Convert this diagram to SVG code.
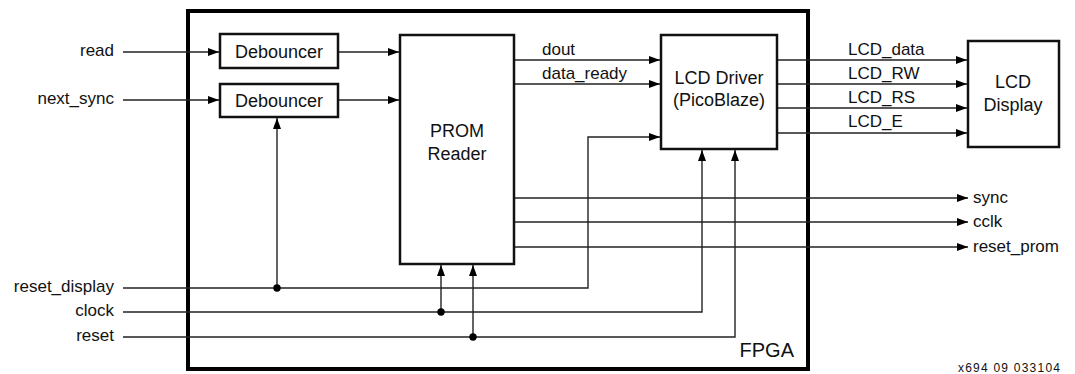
<svg xmlns="http://www.w3.org/2000/svg" width="1075" height="374" viewBox="0 0 1075 374">
<style>
text{font-family:"Liberation Sans",Arial,sans-serif;fill:#111}
.lbl{font-size:17px}
.nt{font-size:18px;text-anchor:middle}
.box{fill:#fff;stroke:#111;stroke-width:2.5}
.w{fill:none;stroke:#222;stroke-width:1.4}
.a{marker-end:url(#ah)}
.dot{fill:#000}
</style>
<defs>
<marker id="ah" markerUnits="userSpaceOnUse" markerWidth="11" markerHeight="8" refX="11" refY="4" orient="auto">
<path d="M0,0 L11,4 L0,8 z" fill="#000"/>
</marker>
</defs>
<g id="fpga">
<rect x="188" y="11" width="620" height="358" fill="none" stroke="#000" stroke-width="4"/>
<text x="794" y="357" style="font-size:20px;text-anchor:end">FPGA</text>
</g>
<g id="connectors">
<path class="w a" d="M123,52 H219"/>
<path class="w a" d="M123,100 H219"/>
<path class="w a" d="M338,52 H399"/>
<path class="w a" d="M338,100 H399"/>
<path class="w a" d="M514,60 H660"/>
<path class="w a" d="M514,84 H660"/>
<path class="w a" d="M777,60 H967"/>
<path class="w a" d="M777,84 H967"/>
<path class="w a" d="M777,108 H967"/>
<path class="w a" d="M777,133 H967"/>
<path class="w a" d="M514,198 H968"/>
<path class="w a" d="M514,222 H968"/>
<path class="w a" d="M514,247 H968"/>
<path class="w a" d="M123,288 H588 V137 H660"/>
<path class="w a" d="M277,288 V118"/>
<path class="w a" d="M123,312 H702 V150"/>
<path class="w a" d="M123,337 H735 V150"/>
<path class="w a" d="M441,312 V265"/>
<path class="w a" d="M473,337 V265"/>
<circle class="dot" cx="277" cy="288" r="3.7"/>
<circle class="dot" cx="441" cy="312" r="3.7"/>
<circle class="dot" cx="473" cy="337" r="3.7"/>
<text class="lbl" x="542" y="55">dout</text>
<text class="lbl" x="542" y="79">data_ready</text>
<text class="lbl" x="848" y="55">LCD_data</text>
<text class="lbl" x="848" y="79">LCD_RW</text>
<text class="lbl" x="848" y="103">LCD_RS</text>
<text class="lbl" x="848" y="127">LCD_E</text>
<text class="lbl" x="973" y="203">sync</text>
<text class="lbl" x="973" y="227">cclk</text>
<text class="lbl" x="973" y="252">reset_prom</text>
<text class="lbl" x="114" y="56" text-anchor="end">read</text>
<text class="lbl" x="114" y="104" text-anchor="end">next_sync</text>
<text class="lbl" x="114" y="292" text-anchor="end">reset_display</text>
<text class="lbl" x="114" y="316" text-anchor="end">clock</text>
<text class="lbl" x="114" y="341" text-anchor="end">reset</text>
</g>
<g id="debouncer1">
<rect class="box" x="220" y="34" width="118" height="34"/>
<text class="nt" x="279" y="58">Debouncer</text>
</g>
<g id="debouncer2">
<rect class="box" x="220" y="84" width="118" height="33"/>
<text class="nt" x="279" y="107">Debouncer</text>
</g>
<g id="prom_reader">
<rect class="box" x="400" y="35" width="114" height="229"/>
<text class="nt" x="457" y="137">PROM</text>
<text class="nt" x="457" y="160">Reader</text>
</g>
<g id="lcd_driver">
<rect class="box" x="661" y="35" width="116" height="114"/>
<text class="nt" x="719" y="84">LCD Driver</text>
<text class="nt" x="719" y="106">(PicoBlaze)</text>
</g>
<g id="lcd_display">
<rect class="box" x="968" y="41" width="91" height="106"/>
<text class="nt" x="1013" y="88">LCD</text>
<text class="nt" x="1013" y="111">Display</text>
</g>
<text x="1060" y="372" style="font-size:12px;text-anchor:end" textLength="102" lengthAdjust="spacing">x694 09 033104</text>
</svg>
